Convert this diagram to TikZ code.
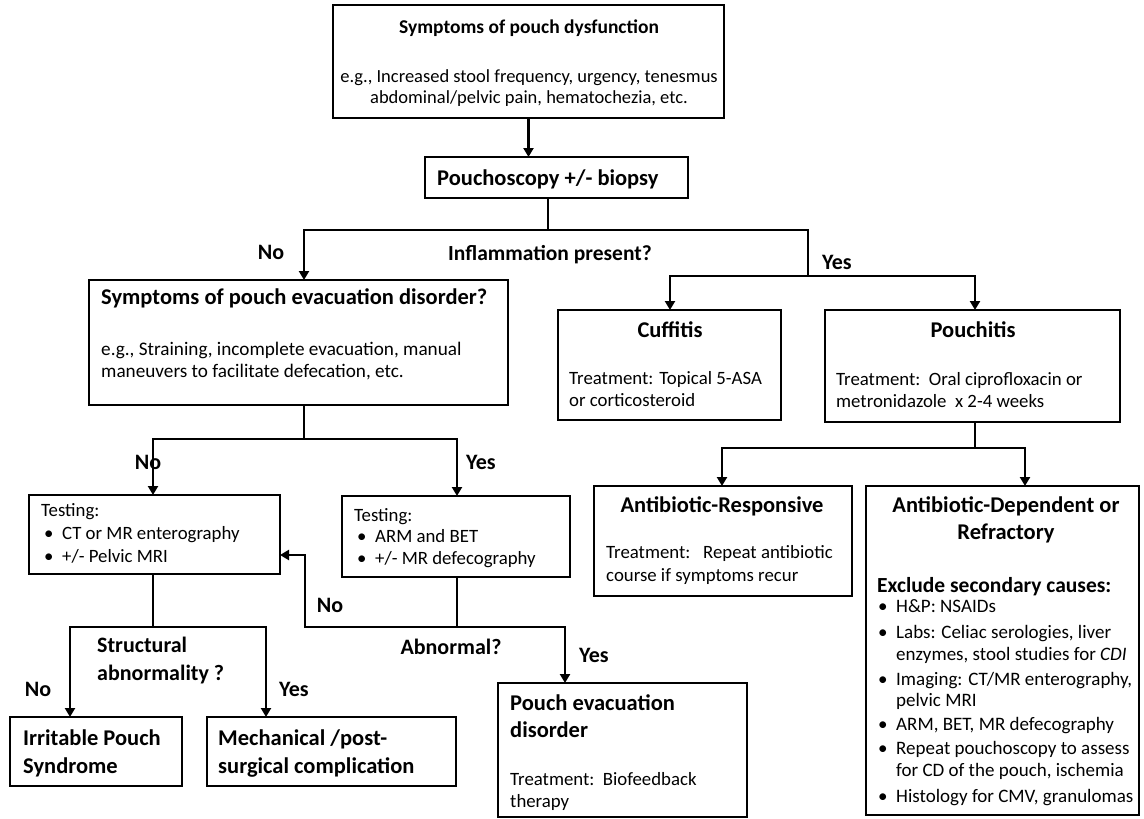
\documentclass[tikz,border=0pt]{standalone}
\usepackage{fontspec}
\setmainfont{Carlito}
\usetikzlibrary{arrows.meta}
\newcommand{\fsz}[2]{\fontsize{#1pt}{#2pt}\selectfont}
\newcommand{\bx}[5]{\node[boxst, minimum width={#4-#2}, minimum height={#5-#3}] (#1) at ({(#2+#4)/2},{(#3+#5)/2}) {};}
\newcommand{\bul}{\makebox[18pt][l]{•}}
\newcommand{\tbul}{\hspace*{3pt}\makebox[18pt][l]{•}}
\newcommand{\ind}{\hspace*{18pt}}
\tikzset{
  boxst/.style={draw, line width=2.8pt, inner sep=0pt, outer sep=0pt},
  ln/.style={line width=2.8pt},
  arr/.style={line width=2.8pt, -{Triangle[length=9pt,width=10pt]}},
  tc/.style={inner sep=0pt, anchor=base, align=center},
  tl/.style={inner sep=0pt, anchor=base west, align=left},
  body/.style={font=\fsz{18.8}{22}},
  hd/.style={font=\fsz{22.5}{27}\bfseries},
  lab/.style={inner sep=0pt, anchor=base, font=\fsz{22}{27}\bfseries},
}
\begin{document}
\begin{tikzpicture}[x=1pt,y=-1pt]
\useasboundingbox (0,0) rectangle (1144,819);
% boxes
\bx{top}{333}{5}{724}{118}
\bx{psc}{425}{157}{688}{198}
\bx{evac}{89}{280}{508}{405}
\bx{cuf}{558}{310}{781}{420}
\bx{pch}{825}{310}{1120}{422}
\bx{t1}{29}{495}{280}{574}
\bx{t2}{342}{496}{570}{577}
\bx{abr}{594}{486}{852}{596}
\bx{abd}{866}{486}{1139}{815}
\bx{ibs}{10}{717}{182}{786}
\bx{mech}{207}{717}{456}{786}
\bx{ped}{498}{683}{747}{817}
% texts
\node[tc, font=\fsz{19.5}{26}\bfseries] (topT) at (529,33.5) {Symptoms of pouch dysfunction};
\node[tc, font=\fsz{18.5}{21}] (topB) at (529,103.5) {e.g., Increased stool frequency, urgency, tenesmus\\abdominal/pelvic pain, hematochezia, etc.};
\node[tl, hd] (pscT) at (437,185) {Pouchoscopy +/- biopsy};
\node[lab] (lNo1) at (271,259) {No};
\node[lab, font=\fsz{21.5}{26}\bfseries] (lInf) at (550,260) {Inflammation present?};
\node[lab] (lYes1) at (837,269) {Yes};
\node[tl, hd] (evacT) at (101,304) {Symptoms of pouch evacuation disorder?};
\node[tl, font=\fsz{19.2}{22}] (evacB) at (101,377.5) {e.g., Straining, incomplete evacuation, manual\\maneuvers to facilitate defecation, etc.};
\node[tc, hd] (cufT) at (670,337) {Cuffitis};
\node[tl, body] (cufB) at (569,406) {Treatment:\hspace{6pt}Topical 5-ASA\\or corticosteroid};
\node[tc, hd] (pchT) at (973,337) {Pouchitis};
\node[tl, body] (pchB) at (836,407) {Treatment:\ \ Oral ciprofloxacin or\\metronidazole\ \ x 2-4 weeks};
\node[lab] (lNo2) at (148,469) {No};
\node[lab] (lYes2) at (481,469) {Yes};
\node[tl, font=\fsz{18.8}{23}] (t1B) at (41,562) {Testing:\\\tbul CT or MR enterography\\\tbul +/- Pelvic MRI};
\node[tl, font=\fsz{18.8}{21.5}] (t2B) at (354,564) {Testing:\\\tbul ARM and BET\\\tbul +/- MR defecography};
\node[tc, hd] (abrT) at (722,512) {Antibiotic-Responsive};
\node[tl, font=\fsz{18.8}{23}] (abrB) at (606,581.5) {Treatment:\ \ \ Repeat antibiotic\\course if symptoms recur};
\node[tc, hd] (abdT) at (1006,539) {Antibiotic-Dependent or\\Refractory};
\node[tl, font=\fsz{21.5}{26}\bfseries] (abdX) at (877,592.5) {Exclude secondary causes:};
\node[tl, font=\fsz{19}{22}] (abdB) at (878,802.5) {\bul H\&P: NSAIDs\\[4pt]
\bul Labs: Celiac serologies, liver\\
\ind enzymes, stool studies for \textit{CDI}\\[3pt]
\bul Imaging: CT/MR enterography,\\[-1pt]
\ind pelvic MRI\\[2pt]
\bul ARM, BET, MR defecography\\[2pt]
\bul Repeat pouchoscopy to assess\\
\ind for CD of the pouch, ischemia\\[4pt]
\bul Histology for CMV, granulomas};
\node[lab] (lNo3) at (330,612) {No};
\node[lab] (lAbn) at (451,654) {Abnormal?};
\node[lab] (lYes3) at (594,662) {Yes};
\node[tl, font=\fsz{22}{28}\bfseries] (lStr) at (97,680) {Structural\\abnormality ?};
\node[lab] (lNo4) at (38,696) {No};
\node[lab] (lYes4) at (294,696) {Yes};
\node[tl, hd, font=\fsz{22.5}{28}\bfseries] (ibsT) at (23,773) {Irritable Pouch\\Syndrome};
\node[tl, hd, font=\fsz{22.5}{28}\bfseries] (mechT) at (218,773) {Mechanical /post-\\surgical complication};
\node[tl, hd] (pedT) at (510,737) {Pouch evacuation\\disorder};
\node[tl, body] (pedB) at (510,807.5) {Treatment:\ \ Biofeedback\\therapy};
% junctions
\coordinate (jA) at (548,230); \coordinate (jAL) at (304,230); \coordinate (jAR) at (808,230);
\coordinate (jB) at (808,276); \coordinate (jBL) at (670,276); \coordinate (jBR) at (975,276);
\coordinate (jC) at (975,448); \coordinate (jCL) at (722,448); \coordinate (jCR) at (1025,448);
\coordinate (jD) at (304,439); \coordinate (jDL) at (153,439); \coordinate (jDR) at (457,439);
\coordinate (jE) at (457,627); \coordinate (jEL) at (305,627); \coordinate (jER) at (565,627);
\coordinate (jF) at (305,555);
\coordinate (jG) at (153,627); \coordinate (jGL) at (70,627); \coordinate (jGR) at (266,627);
% connectors
\draw[arr] (top.south) -- (top.south |- psc.north);
\draw[ln] (psc.south -| jA) -- (jA);
\draw[arr] (jB) -- (jAR) -- (jAL) -- (jAL |- evac.north);
\draw[arr] (jBR) -- (jBL) -- (jBL |- cuf.north);
\draw[arr] (jBL) -- (jBR) -- (jBR |- pch.north);
\draw[ln] (pch.south -| jC) -- (jC);
\draw[arr] (jCR) -- (jCL) -- (jCL |- abr.north);
\draw[arr] (jCL) -- (jCR) -- (jCR |- abd.north);
\draw[ln] (evac.south -| jD) -- (jD);
\draw[arr] (jDR) -- (jDL) -- (jDL |- t1.north);
\draw[arr] (jDL) -- (jDR) -- (jDR |- t2.north);
\draw[arr] (t2.south -| jE) -- (jE) -- (jEL) -- (jF) -- (t1.east |- jF);
\draw[arr] (jE) -- (jER) -- (jER |- ped.north);
\draw[ln] (t1.south -| jG) -- (jG);
\draw[arr] (jGR) -- (jGL) -- (jGL |- ibs.north);
\draw[arr] (jGL) -- (jGR) -- (jGR |- mech.north);
\end{tikzpicture}
\end{document}
